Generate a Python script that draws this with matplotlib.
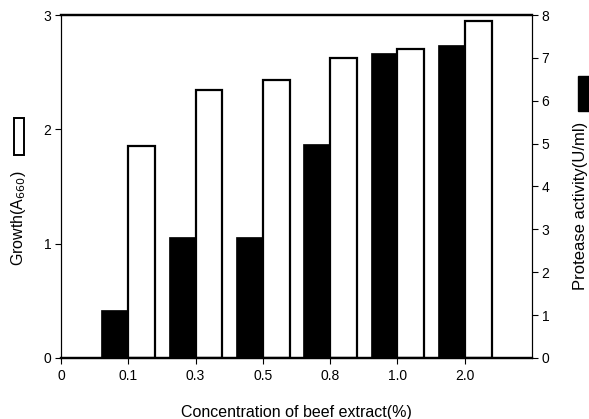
import numpy as np
import matplotlib.pyplot as plt
from matplotlib.patches import Rectangle

plt.rcParams['font.family'] = ['Liberation Sans', 'DejaVu Sans']

# Data
concentrations = ['0', '0.1', '0.3', '0.5', '0.8', '1.0', '2.0']
growth = [1.85, 2.34, 2.43, 2.62, 2.70, 2.95]        # A660, open bars, left axis
protease = [1.12, 2.82, 2.82, 5.0, 7.12, 7.30]        # U/ml, filled bars, right axis

fig = plt.figure(figsize=(5.89, 4.19), dpi=100)
ax = fig.add_axes([0.1036, 0.1456, 0.7996, 0.8186])
ax2 = ax.twinx()

pos = np.arange(1, len(growth) + 1)
w = 0.4

ax.bar(pos, growth, width=w, align='edge', facecolor='white', edgecolor='black', linewidth=1.6)
ax2.bar(pos, protease, width=-w, align='edge', facecolor='black', edgecolor='black', linewidth=0.5)

ax.set_xlim(0, 7)
ax.set_ylim(0, 3)
ax2.set_ylim(0, 8)
ax.set_xticks(np.arange(len(concentrations)))
ax.set_xticklabels(concentrations)
ax.set_yticks([0, 1, 2, 3])
ax2.set_yticks(range(9))

for a in (ax, ax2):
    a.tick_params(direction='out', length=4, width=0.8, labelsize=10, pad=3)
    for s in a.spines.values():
        s.set_linewidth(0.8)
ax.spines['top'].set_linewidth(1.6)
ax.spines['bottom'].set_linewidth(1.6)
ax2.spines['top'].set_linewidth(1.6)
ax2.spines['bottom'].set_linewidth(1.6)
ax.tick_params(axis='x', length=4, pad=4)

ax.set_xlabel('Concentration of beef extract(%)', fontsize=11.5, labelpad=16)

# left axis label with open-bar key
fig.text(19 / 589, 1 - 218 / 419, 'Growth(A$_{660}$)', rotation=90, ha='center', va='center', fontsize=11.5)
fig.patches.append(Rectangle((14 / 589, 1 - 155 / 419), 10 / 589, 37 / 419, transform=fig.transFigure,
                             facecolor='white', edgecolor='black', linewidth=1.4))

# right axis label with filled-bar key
fig.text(581 / 589, 1 - 206 / 419, 'Protease activity(U/ml)', rotation=90, ha='center', va='center', fontsize=12)
fig.patches.append(Rectangle((578 / 589, 1 - 111 / 419), 12 / 589, 35 / 419, transform=fig.transFigure,
                             facecolor='black', edgecolor='black', linewidth=1))

fig.savefig('out.png', dpi=100)
